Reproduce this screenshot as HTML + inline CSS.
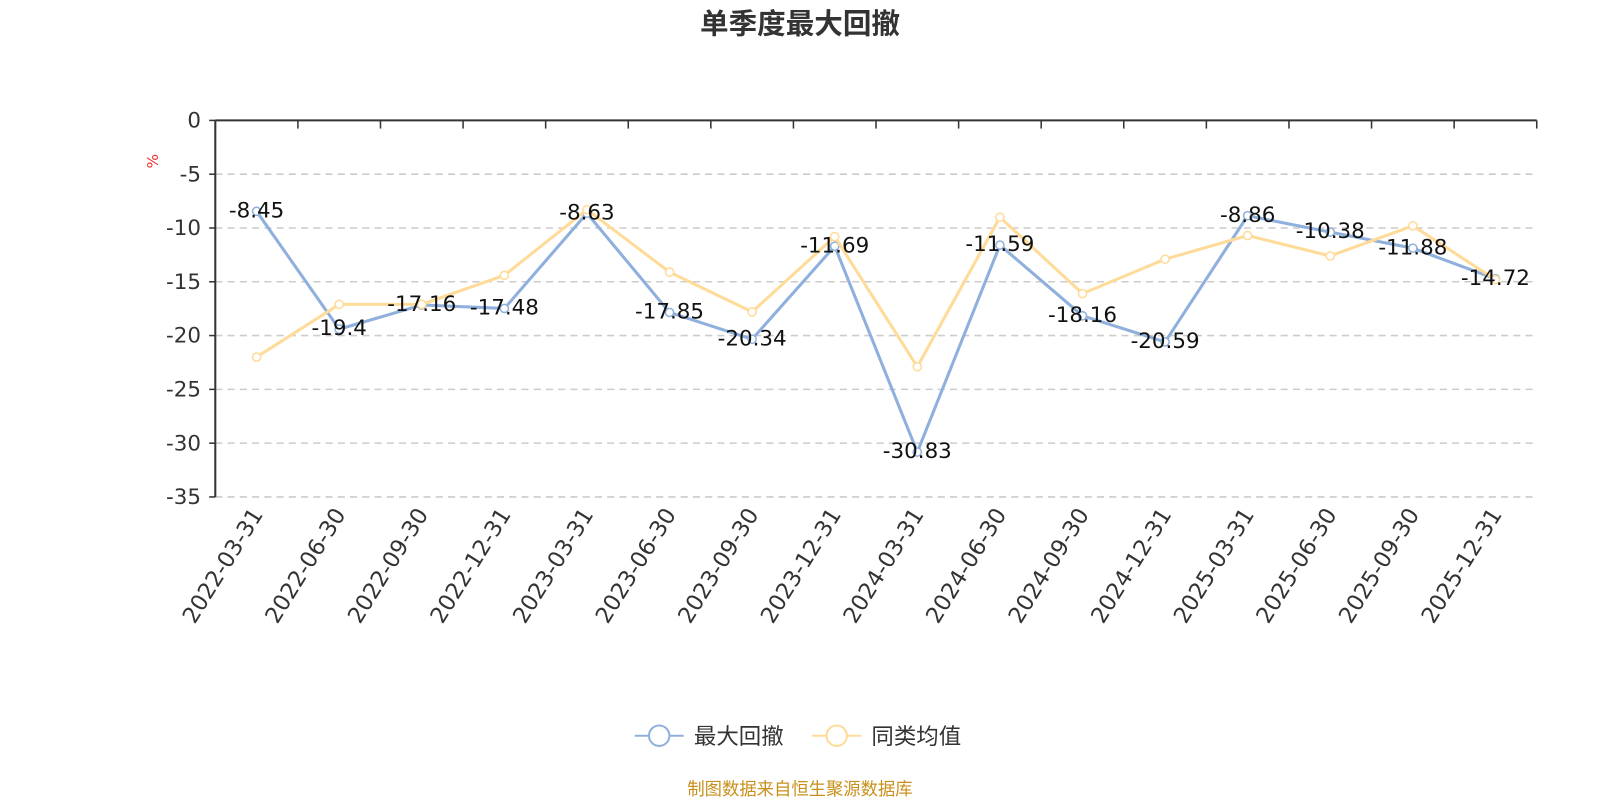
<!DOCTYPE html>
<html><head><meta charset="utf-8"><style>
html,body{margin:0;padding:0;background:#fff;}
svg{display:block;font-family:"DejaVu Sans","Noto Sans CJK SC",sans-serif;}
</style></head><body>
<svg width="1600" height="800" viewBox="0 0 1568 784" xmlns="http://www.w3.org/2000/svg">
<text x="784" y="33" text-anchor="middle" font-size="28" font-weight="bold" fill="#333" font-family="Noto Sans CJK SC,sans-serif">单季度最大回撤</text>
<text transform="translate(155,158) rotate(-90)" text-anchor="middle" font-size="15" fill="#e33">%</text>
<g id="grid" stroke="#ccc" stroke-width="1.5" stroke-dasharray="7,5">
</g>
<g id="axes"></g>
<g id="lines"></g>
<g id="labels" font-size="21" fill="#111" text-anchor="middle"></g>
<g id="xl" font-size="22" fill="#333"></g>
<g>
<line x1="622" y1="721" x2="670" y2="721" stroke="#8fb0dc" stroke-width="2"/>
<circle cx="646" cy="721" r="10" fill="#fff" stroke="#8fb0dc" stroke-width="2"/>
<text x="680" y="729" font-size="22" fill="#333" font-family="Noto Sans CJK SC,sans-serif">最大回撤</text>
<line x1="796" y1="721" x2="844" y2="721" stroke="#ffdb99" stroke-width="2"/>
<circle cx="820" cy="721" r="10" fill="#fff" stroke="#ffdb99" stroke-width="2"/>
<text x="854" y="729" font-size="22" fill="#333" font-family="Noto Sans CJK SC,sans-serif">同类均值</text>
</g>
<text x="784" y="779" text-anchor="middle" font-size="17" fill="#c8901c" font-family="Noto Sans CJK SC,sans-serif">制图数据来自恒生聚源数据库</text>
</svg>
<script>
const ns="http://www.w3.org/2000/svg";
function el(p,t,a,txt){const e=document.createElementNS(ns,t);for(const k in a)e.setAttribute(k,a[k]);if(txt!==undefined)e.textContent=txt;document.getElementById(p).appendChild(e);return e;}
const X0=211,X1=1506,Y0=118,k=10.543;
const cw=(X1-X0)/16;
const yv=v=>Y0-v*k;
for(let i=1;i<=7;i++){el('grid','line',{x1:X0,x2:X1,y1:yv(-5*i),y2:yv(-5*i)});}
el('axes','line',{x1:X0,x2:X1,y1:Y0,y2:Y0,stroke:'#333','stroke-width':2});
el('axes','line',{x1:X0,x2:X0,y1:Y0,y2:yv(-35),stroke:'#333','stroke-width':2});
for(let i=0;i<=16;i++)el('axes','line',{x1:X0+i*cw,x2:X0+i*cw,y1:Y0,y2:Y0+8,stroke:'#333','stroke-width':1.5});
for(let i=0;i<=7;i++){const y=yv(-5*i);el('axes','line',{x1:X0-6,x2:X0,y1:y,y2:y,stroke:'#333','stroke-width':1.5});
el('axes','text',{x:X0-14,y:y+7,'text-anchor':'end','font-size':21,fill:'#333'},i?('-'+5*i):'0');}
const dates=["2022-03-31","2022-06-30","2022-09-30","2022-12-31","2023-03-31","2023-06-30","2023-09-30","2023-12-31","2024-03-31","2024-06-30","2024-09-30","2024-12-31","2025-03-31","2025-06-30","2025-09-30","2025-12-31"];
const b=[-8.45,-19.4,-17.16,-17.48,-8.63,-17.85,-20.34,-11.69,-30.83,-11.59,-18.16,-20.59,-8.86,-10.38,-11.88,-14.72];
const y=[-22.0,-17.1,-17.1,-14.4,-8.3,-14.1,-17.8,-10.8,-22.9,-9.0,-16.1,-12.9,-10.7,-12.6,-9.8,-14.8];
const cx=i=>X0+cw*(i+0.5);
function series(d,c){el('lines','polyline',{points:d.map((v,i)=>cx(i)+','+yv(v)).join(' '),fill:'none',stroke:c,'stroke-width':3,'stroke-linejoin':'round'});
d.forEach((v,i)=>el('lines','circle',{cx:cx(i),cy:yv(v),r:4,fill:'#fff',stroke:c,'stroke-width':1.5}));}
series(b,'#8fb0dc');series(y,'#ffdb99');
b.forEach((v,i)=>el('labels','text',{x:cx(i),y:yv(v)+6},String(v)));
dates.forEach((d,i)=>el('xl','text',{transform:`translate(${cx(i)+7},${Y0+386}) rotate(-58)`,'text-anchor':'end'},d));
</script>
</body></html>
